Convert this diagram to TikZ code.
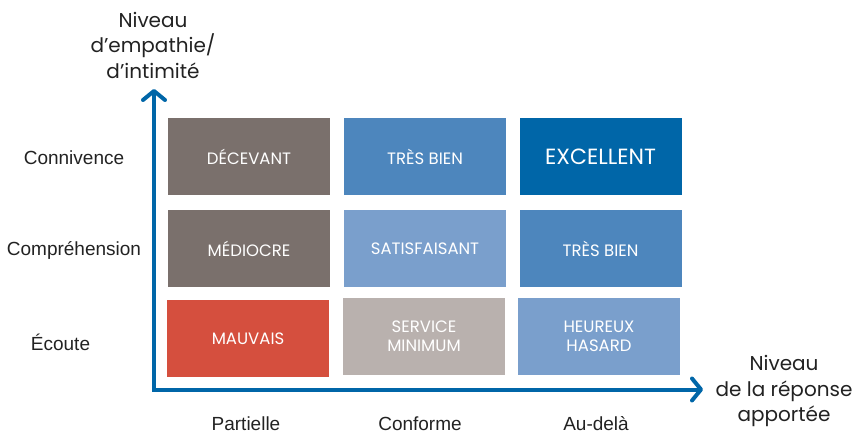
\documentclass[tikz,border=0pt]{standalone}
\usepackage{fontspec}
\setmainfont{Liberation Sans}
\newfontfamily\geofont{Poppins}
\usetikzlibrary{arrows.meta,positioning}

\definecolor{axisblue}{HTML}{0066A8}
\definecolor{taupe}{HTML}{7A706C}
\definecolor{midblue}{HTML}{4D86BD}
\definecolor{paleblue}{HTML}{7A9FCC}
\definecolor{brick}{HTML}{D54F3E}
\definecolor{greige}{HTML}{B9B1AE}
\definecolor{labelgray}{HTML}{222222}

\begin{document}
\begin{tikzpicture}[x=1pt,y=-1pt,
    cell/.style={minimum width=162pt,minimum height=77pt,inner sep=0pt,
      text=white,align=center,font=\geofont\fontsize{16.5}{19}\selectfont},
    axis/.style={line width=4pt,draw=axisblue,
      {Straight Barb[length=9pt,width=22pt,line join=round,line cap=round]}-{Straight Barb[length=9pt,width=22pt,line join=round,line cap=round]}},
    rowlabel/.style={text=labelgray,inner sep=0pt,font=\fontsize{19}{22}\selectfont},
    title/.style={text=labelgray,align=center,font=\geofont\fontsize{20}{25.5}\selectfont}]
  \useasboundingbox (0,0) rectangle (858,433);

  % the nine cells, top row first
  \node[cell,fill=taupe] (decevant) at (249,156.5) {DÉCEVANT};
  \node[cell,fill=midblue] (tresbienA) at (425,156.5) {TRÈS BIEN};
  \node[cell,fill=axisblue,font=\geofont\fontsize{22}{24}\selectfont] (excellent) at (600.5,156.5) {EXCELLENT};
  \node[cell,fill=taupe] (mediocre) at (249,248.5) {MÉDIOCRE};
  \node[cell,fill=paleblue] (satisfaisant) at (425,248.5) {SATISFAISANT};
  \node[cell,fill=midblue] (tresbienB) at (600.5,248.5) {TRÈS BIEN};
  \node[cell,fill=brick] (mauvais) at (248,338.5) {MAUVAIS};
  \node[cell,fill=greige] (servicemin) at (424,336) {SERVICE\\MINIMUM};
  \node[cell,fill=paleblue] (heureux) at (599,336.5) {HEUREUX\\HASARD};

  % axes
  \coordinate (origin) at (154,389.5);
  \coordinate (ytop) at (154,89);
  \coordinate (xend) at (703,389.5);
  \draw[axis] (ytop) -- (origin) -- (xend);

  \node[title] (ytitle) at (153,45) {Niveau\\d’empathie/\\d’intimité};
  \node[title] (xtitle) at (784,391) {Niveau\\de la réponse\\apportée};

  % row labels
  \node[rowlabel] (connivence) at (74,158) {Connivence};
  \node[rowlabel] (comprehension) at (74,250) {Compréhension};
  \node[rowlabel] (ecoute) at (60.5,342) {Écoute};

  % column labels
  \node[rowlabel,anchor=base,text depth=0pt] (partielle) at (246,430) {Partielle};
  \node[rowlabel,anchor=base,text depth=0pt] (conforme) at (420,430) {Conforme};
  \node[rowlabel,anchor=base,text depth=0pt] (audela) at (596,430) {Au-delà};
\end{tikzpicture}
\end{document}
